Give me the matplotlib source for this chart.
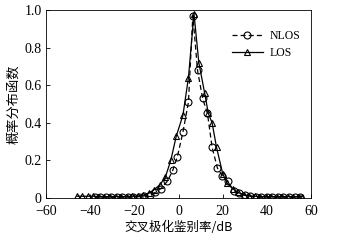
import matplotlib
matplotlib.use("Agg")
import matplotlib.pyplot as plt
from matplotlib.ticker import FuncFormatter

plt.rcParams['font.family'] = ['Liberation Serif', 'Noto Sans CJK SC']
plt.rcParams['axes.unicode_minus'] = True

los_x = [-46, -43.5, -41, -38.5, -36, -33.5, -31, -28.5, -26, -23.5, -21, -18.5,
         -16, -13.5, -11, -8.5, -6, -3.5, -1, 2, 4.5, 7, 9.2, 11.8, 13.5, 15.2,
         17.2, 20, 22, 24.5, 27, 29.5, 32, 34.5, 37, 39.5, 42, 44.5, 47, 49.5,
         52, 54.5, 56]
los_y = [0.01, 0.01, 0.01, 0.01, 0.008, 0.008, 0.008, 0.008, 0.008, 0.008, 0.01, 0.01,
         0.015, 0.025, 0.045, 0.07, 0.11, 0.20, 0.33, 0.44, 0.64, 0.98, 0.72, 0.56, 0.45, 0.40,
         0.27, 0.13, 0.08, 0.05, 0.03, 0.018, 0.012, 0.01, 0.008, 0.008, 0.008, 0.008, 0.008, 0.008,
         0.008, 0.008, 0.008]

nlos_x = [-38, -35.5, -33, -30.5, -28, -25.5, -23, -20.5, -18, -15.5, -13, -10.5,
          -8, -5, -2.5, -0.5, 2, 4.5, 6.5, 8.6, 10.9, 13.1, 15.2, 17.6, 19.8, 22.3,
          24.9, 27.5, 30, 32.5, 35, 37.5, 40, 42.5, 45, 47.5, 50, 52.5, 55]
nlos_y = [0.005, 0.005, 0.005, 0.005, 0.005, 0.005, 0.005, 0.006, 0.008, 0.012, 0.018, 0.03,
          0.05, 0.09, 0.15, 0.22, 0.35, 0.51, 0.97, 0.68, 0.53, 0.45, 0.27, 0.16, 0.12, 0.09,
          0.04, 0.025, 0.015, 0.01, 0.006, 0.005, 0.005, 0.005, 0.005, 0.005, 0.005, 0.005, 0.005]

xticks = [-60, -40, -20, 0, 20, 40, 60]
yticks = [0, 0.2, 0.4, 0.6, 0.8, 1.0]

fig = plt.figure(figsize=(3.4, 2.41), dpi=100)
ax = fig.add_axes([0.135, 0.178, 0.78, 0.781])

ax.plot(nlos_x, nlos_y, linestyle=(0, (4, 2.5)), color='black', lw=0.9,
        marker='o', markersize=5, markerfacecolor='none', markeredgewidth=0.8,
        label='NLOS')
ax.plot(los_x, los_y, linestyle='-', color='black', lw=0.9,
        marker='^', markersize=5, markerfacecolor='none', markeredgewidth=0.8,
        label='LOS')

ax.set_xlim(-60, 60)
ax.set_ylim(0, 1.0)
ax.set_xticks(xticks)
ax.set_yticks(yticks)
ax.yaxis.set_major_formatter(FuncFormatter(lambda v, p: '0' if v == 0 else f'{v:.1f}'))
ax.tick_params(direction='in', length=3, width=0.6, labelsize=10)
ax.tick_params(axis='x', pad=5)
ax.tick_params(axis='y', pad=3)
for s in ax.spines.values():
    s.set_linewidth(0.6)

ax.set_xlabel('交叉极化鉴别率/dB', fontsize=9, labelpad=2,
              family=['Noto Sans CJK SC', 'Liberation Serif'])
ax.set_ylabel('概率分布函数', fontsize=9.5, labelpad=3,
              family=['Noto Sans CJK SC', 'Liberation Serif'])

ax.legend(loc='upper right', bbox_to_anchor=(1.0, 0.95), frameon=False,
          fontsize=8.5, handlelength=2.6, handletextpad=0.6, labelspacing=0.45)

fig.savefig('out.png', dpi=100)
